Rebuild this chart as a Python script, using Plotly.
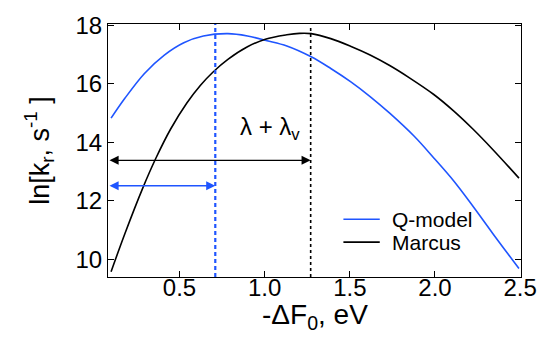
import plotly.graph_objects as go

# Data
q_x = [0.098, 0.179, 0.294, 0.409, 0.525, 0.640, 0.784, 0.899, 1.014, 1.130, 1.273, 1.388,
       1.504, 1.619, 1.734, 1.878, 1.993, 2.109, 2.224, 2.339, 2.493]
q_y = [14.82, 15.50, 16.35, 16.97, 17.40, 17.63, 17.71, 17.63, 17.47, 17.29, 16.92, 16.52,
       16.07, 15.56, 14.99, 14.20, 13.46, 12.68, 11.80, 10.88, 9.68]

m_x = [0.098, 0.179, 0.284, 0.361, 0.448, 0.544, 0.622, 0.697, 0.784, 0.899, 1.004, 1.130,
       1.204, 1.273, 1.388, 1.504, 1.619, 1.734, 1.850, 1.993, 2.109, 2.224, 2.339, 2.493]
m_y = [9.57, 10.87, 12.43, 13.45, 14.45, 15.35, 15.94, 16.40, 16.83, 17.26, 17.52, 17.67,
       17.72, 17.71, 17.54, 17.28, 16.98, 16.62, 16.20, 15.63, 15.07, 14.44, 13.75, 12.77]

series_names = ["Q-model", "Marcus"]
q_lambda = 0.71      # blue dashed marker
m_lambda = 1.27      # black dashed marker (lambda + lambda_v)
q_arrow_y = 12.51
m_arrow_y = 13.38
x_left = 0.08
x_right = 2.505
y_bottom = 9.39
y_top = 18.04
x_ticks = [0.5, 1.0, 1.5, 2.0, 2.5]
x_ticklabels = ["0.5", "1.0", "1.5", "2.0", "2.5"]
y_ticks = [10, 12, 14, 16, 18]

BLUE = "#1f55ff"
FONT = "Arial"

fig = go.Figure()
fig.add_trace(go.Scatter(x=q_x, y=q_y, mode="lines", name=series_names[0], showlegend=False,
                         line=dict(color=BLUE, width=1.6, shape="spline", smoothing=1)))
fig.add_trace(go.Scatter(x=m_x, y=m_y, mode="lines", name=series_names[1], showlegend=False,
                         line=dict(color="black", width=1.6, shape="spline", smoothing=1)))

# vertical dashed lines
fig.add_trace(go.Scatter(x=[q_lambda, q_lambda], y=[y_bottom, y_top], mode="lines",
                         showlegend=False, line=dict(color=BLUE, width=2.2, dash="4px,3px")))
fig.add_trace(go.Scatter(x=[m_lambda, m_lambda], y=[y_bottom, 17.97], mode="lines",
                         showlegend=False, line=dict(color="black", width=1.6, dash="3px,3px")))

# double-headed arrows
for xe, ye, col in [(m_lambda, m_arrow_y, "black"), (q_lambda, q_arrow_y, BLUE)]:
    fig.add_annotation(x=xe, y=ye, ax=x_left, ay=ye, xref="x", yref="y", axref="x", ayref="y",
                       text="", showarrow=True, arrowhead=2, startarrowhead=2,
                       arrowside="end+start", arrowsize=1.4, startarrowsize=1.4,
                       arrowwidth=1.3, arrowcolor=col)

fig.add_annotation(x=1.03, y=14.47, xref="x", yref="y", text="λ + λ<sub>v</sub>",
                   showarrow=False, font=dict(size=24, color="black", family=FONT))

# legend (drawn manually to match the compact spacing)
for i, (name, col) in enumerate(zip(series_names, [BLUE, "black"])):
    yy = 0.228 - i * 0.09
    fig.add_shape(type="line", xref="paper", yref="paper", x0=0.570, x1=0.658, y0=yy, y1=yy,
                  line=dict(color=col, width=1.6))
    fig.add_annotation(x=0.684, y=yy, xref="paper", yref="paper", text=name, showarrow=False,
                       xanchor="left", yanchor="middle",
                       font=dict(size=21, color="black", family=FONT))

# x axis title
fig.add_annotation(x=0.502, y=-0.158, xref="paper", yref="paper", text="-ΔF<sub>0</sub>, eV",
                   showarrow=False, xanchor="center", yanchor="middle",
                   font=dict(size=28, color="black", family=FONT))

axis_common = dict(showline=True, linecolor="black", linewidth=1, mirror="ticks",
                   ticks="inside", ticklen=6, tickcolor="black", tickwidth=1,
                   showgrid=False, zeroline=False,
                   tickfont=dict(size=24, color="black", family=FONT))

fig.update_xaxes(range=[x_left, x_right], tickvals=x_ticks, ticktext=x_ticklabels,
                 ticklabelstandoff=-11, **axis_common)
fig.update_yaxes(range=[y_bottom, y_top], tickvals=y_ticks,
                 title=dict(text="ln[k<sub>r</sub>, s<sup>-1</sup> ]\u00a0\u00a0",
                            font=dict(size=27, color="black", family=FONT), standoff=18),
                 **axis_common)

fig.update_layout(
    width=549, height=349,
    margin=dict(l=108, r=20, t=22, b=72),
    paper_bgcolor="white", plot_bgcolor="white",
    font=dict(family=FONT, color="black", size=18),
    showlegend=False,
)

fig.write_html("out.html")
